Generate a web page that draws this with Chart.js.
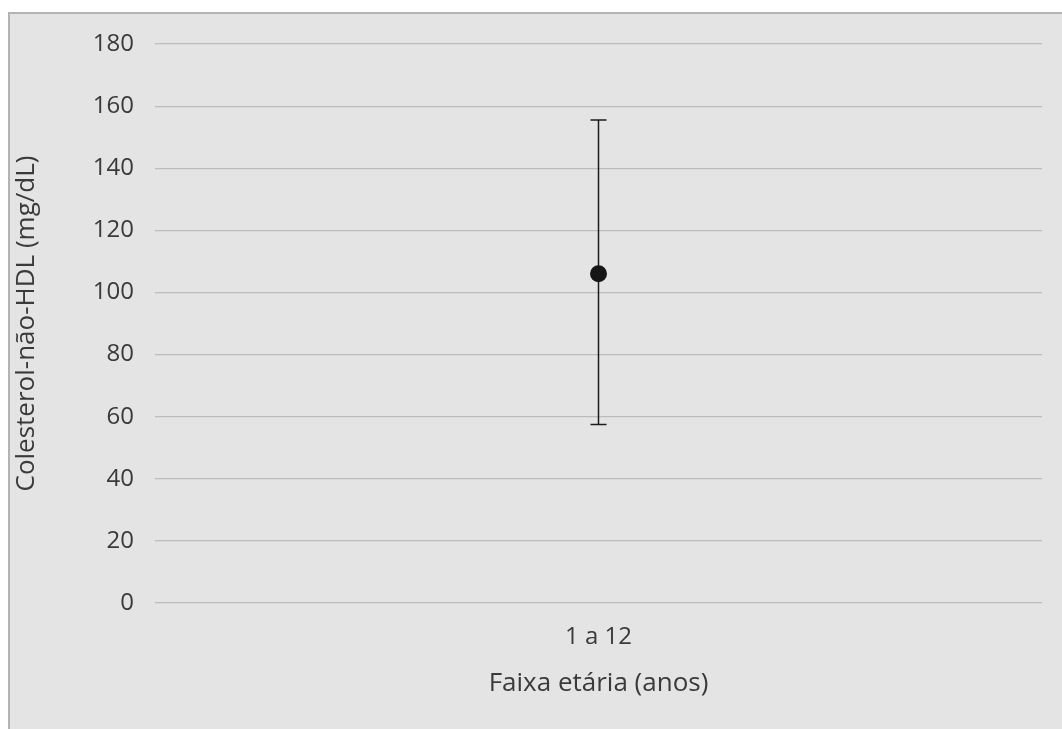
<!DOCTYPE html>
<html>
<head>
<meta charset="utf-8">
<script src="https://cdn.jsdelivr.net/npm/chart.js@4/dist/chart.umd.min.js"></script>
<style>
  html, body { margin: 0; padding: 0; background: #ffffff; overflow: hidden; }
  #frame {
    position: absolute; left: 8px; top: 12px; width: 1100px; height: 760px;
    background: #e4e4e4; border-left: 2px solid #b3b3b3; border-top: 2px solid #b3b3b3;
  }
  #chart { position: absolute; left: 0; top: 0; }
</style>
</head>
<body>
<div id="frame"></div>
<canvas id="chart" width="1062" height="729"></canvas>
<script>
// Age group and non-HDL cholesterol summary (mean with range bars)
const categories = ['1 a 12'];
const meanValues = [106];
const upperValues = [155.5];
const lowerValues = [57.5];
const yTickValues = [0, 20, 40, 60, 80, 100, 120, 140, 160, 180];

const FONT = "'Open Sans', 'DejaVu Sans', sans-serif";
const TEXT = '#3a3a3a';

// Vertical range bars with caps, positioned through the chart scales
const rangeBars = {
  id: 'rangeBars',
  beforeDatasetsDraw(chart) {
    const { ctx, scales: { x, y } } = chart;
    ctx.save();
    ctx.strokeStyle = '#1c1c1c';
    ctx.lineWidth = 1.5;
    categories.forEach((c, i) => {
      const px = x.getPixelForValue(i);
      const top = y.getPixelForValue(upperValues[i]);
      const bot = y.getPixelForValue(lowerValues[i]);
      const half = 8;
      ctx.beginPath();
      ctx.moveTo(px, top); ctx.lineTo(px, bot);
      ctx.moveTo(px - half, top); ctx.lineTo(px + half, top);
      ctx.moveTo(px - half, bot); ctx.lineTo(px + half, bot);
      ctx.stroke();
    });
    ctx.restore();
  }
};

new Chart(document.getElementById('chart'), {
  type: 'line',
  data: {
    labels: categories,
    datasets: [{
      data: meanValues,
      showLine: false,
      pointRadius: 8.5,
      pointHoverRadius: 8.5,
      pointBackgroundColor: '#161616',
      pointBorderColor: '#161616',
      pointBorderWidth: 0
    }]
  },
  options: {
    responsive: false,
    animation: false,
    events: [],
    layout: { padding: { left: 0, top: 44, right: 20, bottom: 0 } },
    plugins: { legend: { display: false }, tooltip: { enabled: false } },
    scales: {
      x: {
        offset: true,
        grid: { display: false, drawTicks: false },
        border: { display: false },
        ticks: { color: TEXT, font: { family: FONT, size: 24 }, padding: 20 },
        title: {
          display: true, text: 'Faixa etária (anos)', color: TEXT,
          font: { family: FONT, size: 26 }, padding: { top: 0, bottom: 30 }
        },
        afterFit(scale) { scale.height = 126; }
      },
      y: {
        min: 0, max: 180,
        afterBuildTicks(scale) { scale.ticks = yTickValues.map(v => ({ value: v })); },
        grid: { color: '#bcbcbc', lineWidth: 1.2, drawTicks: false },
        border: { display: false },
        ticks: { color: TEXT, font: { family: FONT, size: 24 }, padding: 21 },
        title: {
          display: true, text: 'Colesterol-não-HDL (mg/dL)', color: TEXT,
          font: { family: FONT, size: 26 }, padding: { top: 11, bottom: 0 }
        },
        afterFit(scale) { scale.width = 155; }
      }
    }
  },
  plugins: [rangeBars]
});
</script>
</body>
</html>
